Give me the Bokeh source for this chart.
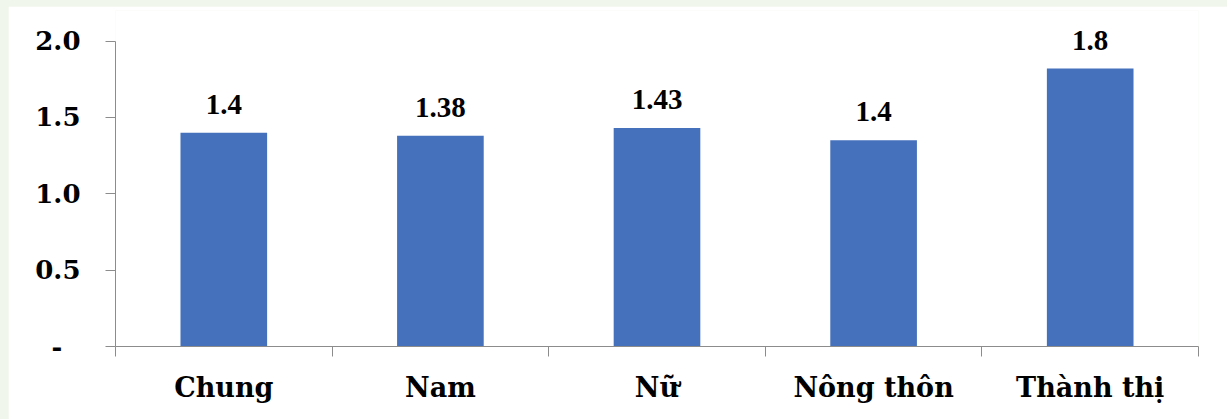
from bokeh.plotting import figure
from bokeh.models import FixedTicker, Range1d, ColumnDataSource, LabelSet
from bokeh.layouts import column
from bokeh.embed import file_html
from bokeh.resources import INLINE

categories = ["Chung", "Nam", "Nữ", "Nông thôn", "Thành thị"]
bar_values = [1.40, 1.38, 1.43, 1.35, 1.82]
bar_labels = ["1.4", "1.38", "1.43", "1.4", "1.8"]
y_ticks = [0, 0.5, 1.0, 1.5, 2.0]
y_tick_labels = ["-\u00a0\u00a0", "0.5", "1.0", "1.5", "2.0"]

FONT = "DejaVu Serif"
BAR = "#4571BC"
AXIS = "#8c8c8c"

xs = [i + 0.5 for i in range(len(categories))]
src = ColumnDataSource(dict(x=xs, top=bar_values, lab=bar_labels))

p = figure(width=1227, height=413, output_backend="svg", toolbar_location=None,
           x_range=Range1d(0, len(categories)), y_range=Range1d(0, 2.2),
           min_border_left=107, min_border_right=37, min_border_top=4, min_border_bottom=73)
p.margin = (6, 0, 0, 8)
p.background_fill_color = "white"
p.border_fill_color = "white"
p.outline_line_color = None
p.grid.visible = False

p.vbar(x="x", top="top", width=0.4, bottom=0, source=src, color=BAR, line_color=None)
labels = LabelSet(x="x", y="top", text="lab", source=src, y_offset=19,
                  text_align="center", text_baseline="alphabetic",
                  text_font=FONT, text_font_style="bold",
                  text_font_size="29px", text_color="black")
p.add_layout(labels)

# x axis
p.xaxis.ticker = FixedTicker(ticks=xs, minor_ticks=list(range(len(categories) + 1)))
p.xaxis.major_label_overrides = {x: c for x, c in zip(xs, categories)}
p.xaxis.major_tick_out = 0
p.xaxis.major_tick_in = 0
p.xaxis.minor_tick_out = 10
p.xaxis.minor_tick_in = 0
p.xaxis.minor_tick_line_color = AXIS
p.xaxis.axis_line_color = AXIS
p.xaxis.major_label_standoff = 15
p.xaxis.major_label_text_font = FONT
p.xaxis.major_label_text_font_style = "bold"
p.xaxis.major_label_text_font_size = "27px"
p.xaxis.major_label_text_color = "black"

# y axis
p.yaxis.ticker = FixedTicker(ticks=y_ticks, minor_ticks=[])
p.yaxis.bounds = (0, 2.0)
p.yaxis.major_label_overrides = {t: l for t, l in zip(y_ticks, y_tick_labels)}
p.yaxis.major_tick_out = 10
p.yaxis.major_tick_in = 0
p.yaxis.major_tick_line_color = AXIS
p.yaxis.axis_line_color = AXIS
p.yaxis.minor_tick_line_color = None
p.yaxis.major_label_standoff = 25
p.yaxis.major_label_text_font = FONT
p.yaxis.major_label_text_font_style = "bold"
p.yaxis.major_label_text_font_size = "26px"
p.yaxis.major_label_text_color = "black"

layout = column(p, styles={"background-color": "#f0f6ec"})

open("out.html", "w").write(file_html(layout, INLINE))
